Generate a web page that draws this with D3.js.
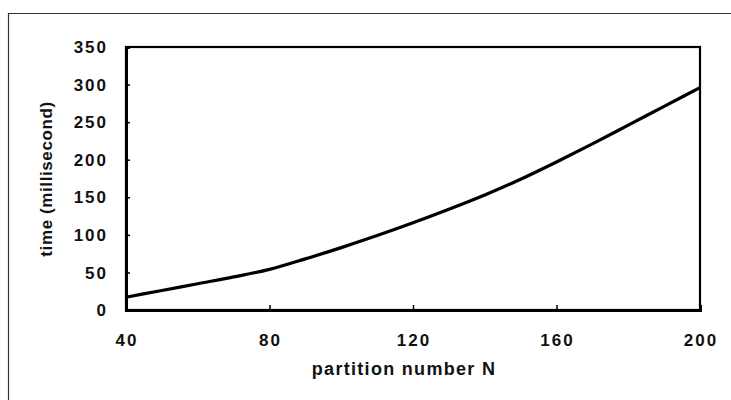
<!DOCTYPE html>
<html>
<head>
<meta charset="utf-8">
<script src="https://cdn.jsdelivr.net/npm/d3@7"></script>
<style>
  body { margin: 0; background: #fff; }
  text { font-family: Arial, "Liberation Sans", sans-serif; font-weight: bold; fill: #111; }
</style>
</head>
<body>
<script>
// values
var partitions = [40, 50, 60, 70, 80, 90, 100, 110, 120, 130, 140, 150, 160, 170, 180, 190, 200]
var times = [17, 26, 35, 44, 54, 68, 83, 99, 116, 134, 153, 174, 197, 221, 246, 271, 296]
var xTicks = [40, 80, 120, 160, 200]
var yTicks = [0, 50, 100, 150, 200, 250, 300, 350]

var width = 731, height = 400
var plotLeft = 126, plotRight = 700, plotTop = 47, plotBottom = 310

var svg = d3.select('body').append('svg')
  .attr('width', width)
  .attr('height', height)

// outer frame (only top and left edges are visible)
svg.append('path')
  .attr('d', 'M8.5,' + height + 'V13.5H' + width)
  .attr('fill', 'none')
  .attr('stroke', '#333')
  .attr('stroke-width', 1.2)

var x = d3.scaleLinear().domain([40, 200]).range([plotLeft, plotRight])
var y = d3.scaleLinear().domain([0, 350]).range([plotBottom, plotTop])

// plot frame
svg.append('rect')
  .attr('x', plotLeft).attr('y', plotTop)
  .attr('width', plotRight - plotLeft).attr('height', plotBottom - plotTop)
  .attr('fill', 'none')
  .attr('stroke', '#000')
  .attr('stroke-width', 2.2)

var yAxis = svg.append('g')
  .attr('transform', 'translate(' + plotLeft + ',0)')
  .call(d3.axisRight(y).tickValues(yTicks).tickSize(4).tickFormat(''))
yAxis.select('.domain').attr('stroke-width', 3)

var xAxis = svg.append('g')
  .attr('transform', 'translate(0,' + plotBottom + ')')
  .call(d3.axisTop(x).tickValues(xTicks).tickSize(5).tickFormat(''))
xAxis.select('.domain').attr('stroke-width', 3)
svg.selectAll('.tick line').attr('stroke-width', 1.5)

svg.append('g').selectAll('text')
  .data(yTicks)
  .enter()
  .append('text')
  .attr('x', 108)
  .attr('y', d => y(d))
  .attr('dy', '0.36em')
  .attr('text-anchor', 'end')
  .style('font-size', '17px')
  .style('letter-spacing', '2px')
  .text(d => d)

svg.append('g').selectAll('text')
  .data(xTicks)
  .enter()
  .append('text')
  .attr('x', d => x(d) + 1)
  .attr('y', 346)
  .attr('text-anchor', 'middle')
  .style('font-size', '17px')
  .style('letter-spacing', '2px')
  .text(d => d)

svg.append('text')
  .attr('x', 404)
  .attr('y', 375)
  .attr('text-anchor', 'middle')
  .style('font-size', '18px')
  .style('letter-spacing', '1.3px')
  .text('partition number N')

svg.append('text')
  .attr('transform', 'translate(52,179) rotate(-90)')
  .attr('text-anchor', 'middle')
  .style('font-size', '17px')
  .style('letter-spacing', '0.6px')
  .text('time (millisecond)')

var line = d3.line()
  .x((d, i) => x(partitions[i]))
  .y(d => y(d))
  .curve(d3.curveMonotoneX)

svg.append('path')
  .attr('d', line(times))
  .attr('fill', 'none')
  .attr('stroke', '#000')
  .attr('stroke-width', 3.2)
</script>
</body>
</html>
